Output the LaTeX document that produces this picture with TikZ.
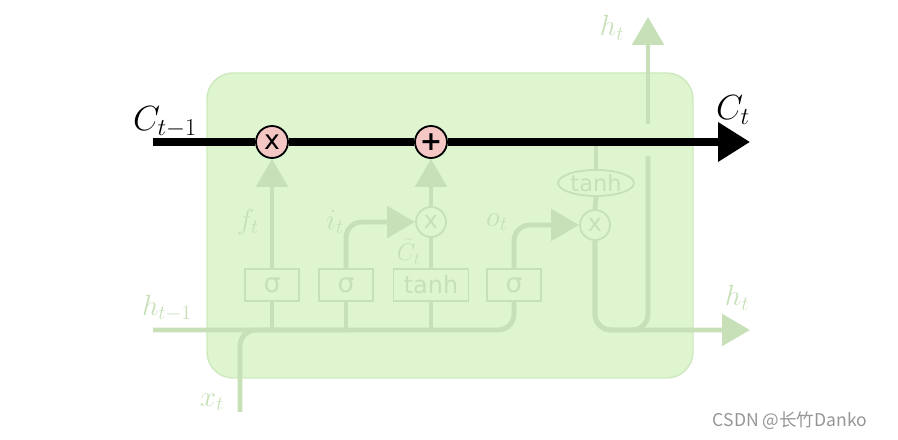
\documentclass[tikz,border=0pt]{standalone}
\usepackage{fontspec}
\usepackage{xcolor}
\definecolor{cellfill}{RGB}{222,245,208}
\definecolor{celledge}{RGB}{206,233,190}
\definecolor{faded}{RGB}{199,224,184}
\definecolor{pinkop}{RGB}{244,199,196}
\definecolor{wmgray}{RGB}{150,150,150}
\newfontfamily\gatefont{DejaVu Sans}
\newfontfamily\cjkfont{Noto Sans CJK SC}
\usepackage{tikz}
\usetikzlibrary{
    shapes.geometric,
    arrows.meta,
    positioning,
    calc
}

\begin{document}
\begin{tikzpicture}[
        op/.style={circle, draw=black, line width=1.3pt, fill=pinkop, minimum size=0.8cm, inner sep=0pt, font=\gatefont\fontsize{19}{19}\selectfont},
        fadeop/.style={circle, draw=faded, line width=1.3pt, fill=cellfill, text=faded, minimum size=0.75cm, inner sep=0pt, font=\gatefont\fontsize{17}{17}\selectfont},
        gate/.style={rectangle, draw=faded, line width=1.3pt, fill=cellfill, text=faded, minimum width=#1, minimum height=0.8cm, inner sep=0pt, font=\gatefont\fontsize{19}{19}\selectfont},
        flow/.style={faded, line width=3.5pt, rounded corners=0.4cm},
        arrow/.style={flow, -{Triangle[length=0.7cm, width=0.78cm]}},
        cellline/.style={black, line width=5pt},
        lbl/.style={text=faded, font=\fontsize{21}{24}\selectfont},
        gate/.default=1.35cm
    ]
        \useasboundingbox (0,0) rectangle (22.45,11);
        \fill[cellfill, draw=celledge, line width=1pt, rounded corners=0.65cm] (5.175,1.55) rectangle (17.325,9.175);

        % gates
        \node[gate] (gatef) at (6.8,3.875) {σ};
        \node[gate] (gatei) at (8.65,3.875) {σ};
        \node[gate=1.875cm, font=\gatefont\fontsize{17}{17}\selectfont] (gatec) at (10.775,3.875) {tanh};
        \node[gate] (gateo) at (12.85,3.875) {σ};
        \node[fadeop] (imul) at (10.775,5.45) {x};
        \node[fadeop] (omul) at (14.875,5.375) {x};
        \node[ellipse, draw=faded, line width=1.3pt, fill=cellfill, text=faded, minimum width=1.9cm, minimum height=0.65cm, inner sep=0pt, font=\gatefont\fontsize{16}{16}\selectfont] (tanhc) at (14.9,6.425) {tanh};

        % cell state
        \node[op] (fmul) at (6.8,7.45) {x};
        \node[op, font=\gatefont\bfseries\fontsize{19}{19}\selectfont] (addop) at (10.775,7.45) {+};
        \coordinate (cin) at (3.825,7.45);
        \coordinate (cout) at (18.75,7.45);
        \coordinate (tap) at (14.9,7.45);

        \coordinate (hin) at (3.825,2.75);
        \coordinate (xin) at (6.0,0.7);
        \coordinate (hout) at (18.75,2.75);
        \coordinate (hsplit) at (16.2,2.75);
        \coordinate (hbelow) at (16.2,7.1);
        \coordinate (habove) at (16.2,7.9);
        \coordinate (htop) at (16.2,10.575);

        % inputs
        \draw[flow] (hin) -| (gateo.south);
        \draw[flow] (xin) |- (gatei.south |- hin);
        \draw[flow] (gatef.south |- hin) -- (gatef.south);
        \draw[flow] (gatei.south |- hin) -- (gatei.south);
        \draw[flow] (gatec.south |- hin) -- (gatec.south);

        % gate outputs
        \draw[arrow] (gatef.north) -- (fmul.south);
        \draw[arrow] (gatei.north) |- (imul.west);
        \draw[flow] (gatec.north) -- (imul.south);
        \draw[arrow] (imul.north) -- (addop.south);
        \draw[arrow] (gateo.north) |- (omul.west);

        % output
        \draw[flow] (tap) -- (tanhc.north);
        \draw[flow] (tanhc.south) -- (omul.north);
        \draw[flow] (omul.south) |- (hsplit) -- (hbelow);
        \draw[arrow] (omul.south) |- (hout);
        \draw[arrow] (habove) -- (htop);

        \draw[cellline] (cin) -- (fmul);
        \draw[cellline] (fmul) -- (addop);
        \draw[cellline, -{Triangle[length=0.8cm, width=0.95cm]}] (addop) -- (cout);

        % labels
        \node[font=\fontsize{24}{28}\selectfont] (lcin) at (4.125,7.95) {$C_{t-1}$};
        \node[font=\fontsize{24}{28}\selectfont] (lcout) at (18.325,8.25) {$C_t$};
        \node[lbl] (lf) at (6.2,5.45) {$f_t$};
        \node[lbl] (li) at (8.375,5.45) {$i_t$};
        \node[lbl, inner sep=0pt, font=\fontsize{18}{20}\selectfont] (lc) at (10.22,4.72) {$\tilde{C}_t$};
        \node[lbl] (lo) at (12.425,5.45) {$o_t$};
        \node[lbl] (lhin) at (4.175,3.3) {$h_{t-1}$};
        \node[lbl] (lx) at (5.3,0.95) {$x_t$};
        \node[lbl] (lhout) at (18.425,3.55) {$h_t$};
        \node[lbl] (lhtop) at (15.3,10.3) {$h_t$};

        \node[text=wmgray, font=\cjkfont\fontsize{12.5}{14}\selectfont] (mark) at (19.75,0.475) {CSDN @长竹Danko};
    \end{tikzpicture}
\end{document}
